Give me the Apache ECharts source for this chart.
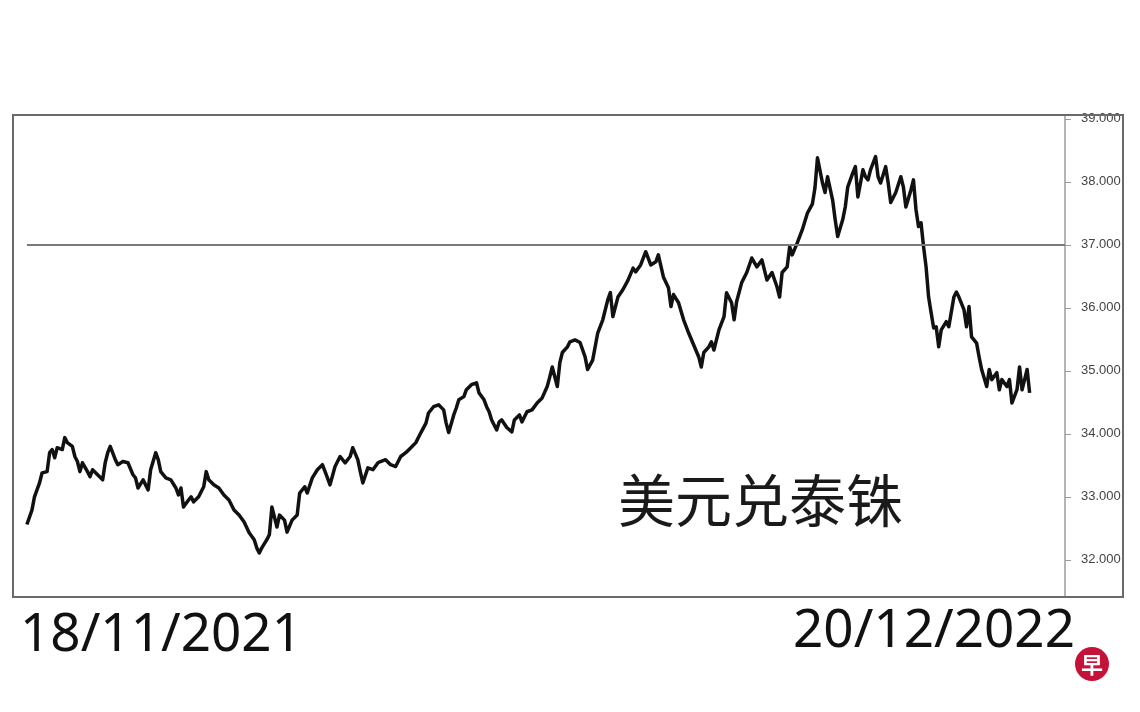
<!DOCTYPE html>
<html>
<head>
<meta charset="utf-8">
<script src="https://cdn.jsdelivr.net/npm/echarts@6/dist/echarts.min.js"></script>
<style>
  html, body { margin: 0; padding: 0; background: #ffffff; }
  #chart { width: 1140px; height: 712px; }
</style>
</head>
<body>
<div id="chart"></div>
<script>
// ---- data ----
const chartTitle = '美元兑泰铢';
const startLabel = '18/11/2021';
const endLabel = '20/12/2022';
const referenceLevel = 37;
const yTicks = [32, 33, 34, 35, 36, 37, 38, 39];

// days since 18/11/2021
const dayOffsets = [
  0, 2, 3, 5, 6, 8, 9, 10, 11, 12, 14, 15, 16, 18, 19, 20, 21, 22, 24, 25,
  26, 28, 30, 31, 32, 33, 35, 36, 38, 40, 42, 43, 44, 46, 47, 48, 49, 51, 52, 53,
  55, 57, 59, 60, 61, 62, 64, 65, 66, 68, 70, 71, 72, 74, 76, 78, 80, 82, 84, 86,
  88, 90, 91, 92, 93, 95, 96, 97, 99, 100, 102, 103, 105, 107, 108,
  110, 111, 113, 115, 117, 119, 120, 122, 124, 126, 128, 129, 131, 132, 133, 135, 137, 139, 140, 142,
  144, 146, 148, 150, 152, 154, 156, 158, 159, 161, 163, 165, 166, 167, 169, 170, 171, 173, 174, 176,
  178, 179, 181, 182, 183, 184, 186, 187, 188, 190, 192, 193, 195, 196, 198, 200, 202, 204, 206, 207,
  208, 210, 211, 212, 214, 215,
  217, 219, 221, 222, 224, 226, 228, 230, 231, 232, 234, 236, 238, 240, 241, 243, 245, 247, 249, 250,
  252, 254, 255, 256, 258, 260, 262, 264, 266, 267, 268, 270, 271, 272, 274, 276, 277, 279, 280, 281,
  283, 285, 287, 289, 291, 293, 295, 297, 298, 299, 301, 302, 303, 305, 307, 309, 311, 312, 313,
  315, 316, 317, 319, 320, 321, 323, 324, 325, 327, 328, 329, 331, 332, 333, 334, 336, 337, 338, 340,
  341, 342, 344, 346, 347, 348, 350, 351, 352, 353, 354, 355, 356, 357, 358, 359, 360, 361, 362, 364,
  365, 367, 368, 369, 371, 372, 373, 374, 376, 377, 378, 380, 381, 382, 384, 385, 386, 388, 389, 390,
  392, 393, 394, 395, 396, 397
];

// USD/THB rate
const rates = [
  32.56, 32.79, 33.00, 33.22, 33.38, 33.40, 33.70, 33.75, 33.62, 33.78, 33.75, 33.94, 33.86, 33.80, 33.64, 33.56, 33.40, 33.54, 33.40, 33.32,
  33.43, 33.35, 33.27, 33.54, 33.70, 33.80, 33.59, 33.51, 33.56, 33.54, 33.35, 33.30, 33.14, 33.27, 33.19, 33.11, 33.43, 33.70, 33.59, 33.40,
  33.30, 33.27, 33.14, 33.03, 33.14, 32.84, 32.95, 33.00, 32.92, 33.00, 33.16, 33.40, 33.27, 33.19, 33.14, 33.03, 32.95, 32.79, 32.71, 32.60,
  32.43, 32.32, 32.19, 32.11, 32.19, 32.32, 32.40, 32.84, 32.52, 32.71, 32.63, 32.44, 32.63, 32.71, 33.06,
  33.16, 33.06, 33.30, 33.43, 33.51, 33.30, 33.19, 33.48, 33.64, 33.54, 33.64, 33.78, 33.59, 33.40, 33.22, 33.46, 33.43, 33.54, 33.56, 33.59,
  33.51, 33.48, 33.64, 33.70, 33.78, 33.86, 34.02, 34.17, 34.33, 34.43, 34.46, 34.38, 34.17, 34.02, 34.30, 34.41, 34.54, 34.59, 34.70, 34.78,
  34.81, 34.65, 34.54, 34.43, 34.35, 34.22, 34.06, 34.19, 34.22, 34.10, 34.03, 34.22, 34.30, 34.19, 34.35, 34.38, 34.49, 34.57, 34.75, 34.90,
  35.06, 34.75, 35.13, 35.29, 35.38, 35.46,
  35.49, 35.45, 35.22, 35.02, 35.17, 35.60, 35.81, 36.13, 36.24, 35.86, 36.17, 36.29, 36.44, 36.63, 36.57, 36.68, 36.89, 36.68, 36.73, 36.84,
  36.49, 36.32, 36.02, 36.21, 36.08, 35.81, 35.60, 35.41, 35.22, 35.06, 35.29, 35.38, 35.46, 35.33, 35.65, 35.86, 36.24, 36.08, 35.81, 36.10,
  36.40, 36.56, 36.79, 36.65, 36.76, 36.44, 36.56, 36.33, 36.17, 36.56, 36.65, 36.97, 36.84, 37.03, 37.24, 37.50, 37.65, 37.90, 38.38,
  37.98, 37.83, 38.08, 37.71, 37.40, 37.13, 37.40, 37.60, 37.92, 38.14, 38.24, 37.76, 38.19, 38.08, 38.03, 38.19, 38.40, 38.08, 37.98, 38.24,
  37.98, 37.67, 37.83, 38.08, 37.92, 37.60, 37.87, 38.03, 37.56, 37.29, 37.35, 36.97, 36.65, 36.17, 35.92, 35.68, 35.70, 35.38, 35.65, 35.78,
  35.70, 36.17, 36.25, 36.17, 35.97, 35.70, 36.02, 35.54, 35.44, 35.22, 35.02, 34.75, 35.02, 34.86, 34.97, 34.70, 34.86, 34.75, 34.86, 34.49,
  34.70, 35.06, 34.70, 34.86, 35.02, 34.65
];

// ---- chart ----
const seriesData = dayOffsets.map((d, i) => [d, rates[i]]);

const chart = echarts.init(document.getElementById('chart'), null, { renderer: 'canvas' });

chart.setOption({
  backgroundColor: '#ffffff',
  animation: false,
  grid: { left: 13, right: 75, top: 115, bottom: 115, containLabel: false },
  xAxis: {
    type: 'value',
    min: -5.5,
    max: 411,
    show: false
  },
  yAxis: {
    type: 'value',
    position: 'right',
    min: 31.41,
    max: 39.06,
    axisLine: { show: true, onZero: false, lineStyle: { color: '#b4b4b4', width: 2 } },
    axisTick: { show: true, customValues: yTicks, length: 6, lineStyle: { color: '#9a9a9a', width: 1 } },
    axisLabel: {
      show: true,
      customValues: yTicks,
      margin: 16,
      fontSize: 13,
      fontFamily: 'Liberation Sans, Arial, sans-serif',
      color: '#444',
      formatter: v => v.toFixed(3)
    },
    splitLine: { show: false }
  },
  series: [{
    type: 'line',
    data: seriesData,
    showSymbol: false,
    symbol: 'none',
    lineStyle: { color: '#111111', width: 3.5, join: 'round' },
    z: 3,
    markLine: {
      silent: true,
      symbol: ['none', 'none'],
      label: { show: false },
      lineStyle: { color: '#7a7a7a', width: 2, type: 'solid' },
      data: [[{ coord: [0, referenceLevel] }, { coord: [411, referenceLevel] }]]
    }
  }],
  graphic: [
    {
      type: 'rect',
      z: 50,
      shape: { x: 13, y: 115, width: 1110, height: 482 },
      style: { fill: 'none', stroke: '#6a6a6a', lineWidth: 2 }
    },
    {
      type: 'text',
      z: 50,
      x: 618, y: 500,
      style: {
        text: chartTitle,
        font: '57px "Noto Sans CJK SC"',
        fill: '#1a1a1a',
        align: 'left',
        verticalAlign: 'middle'
      }
    },
    {
      type: 'text',
      z: 50,
      x: 20, y: 636,
      style: {
        text: startLabel,
        font: '53px "Noto Sans"',
        fill: '#111111',
        align: 'left',
        verticalAlign: 'middle'
      }
    },
    {
      type: 'text',
      z: 50,
      x: 1075, y: 632,
      style: {
        text: endLabel,
        font: '53px "Noto Sans"',
        fill: '#111111',
        align: 'right',
        verticalAlign: 'middle'
      }
    },
    {
      type: 'circle',
      z: 60,
      shape: { cx: 1092, cy: 664, r: 17 },
      style: { fill: '#c41238' }
    },
    {
      type: 'text',
      z: 61,
      x: 1092, y: 665,
      style: {
        text: '早',
        font: 'bold 22px "Noto Sans CJK SC"',
        fill: '#ffffff',
        align: 'center',
        verticalAlign: 'middle'
      }
    }
  ]
});
</script>
</body>
</html>
